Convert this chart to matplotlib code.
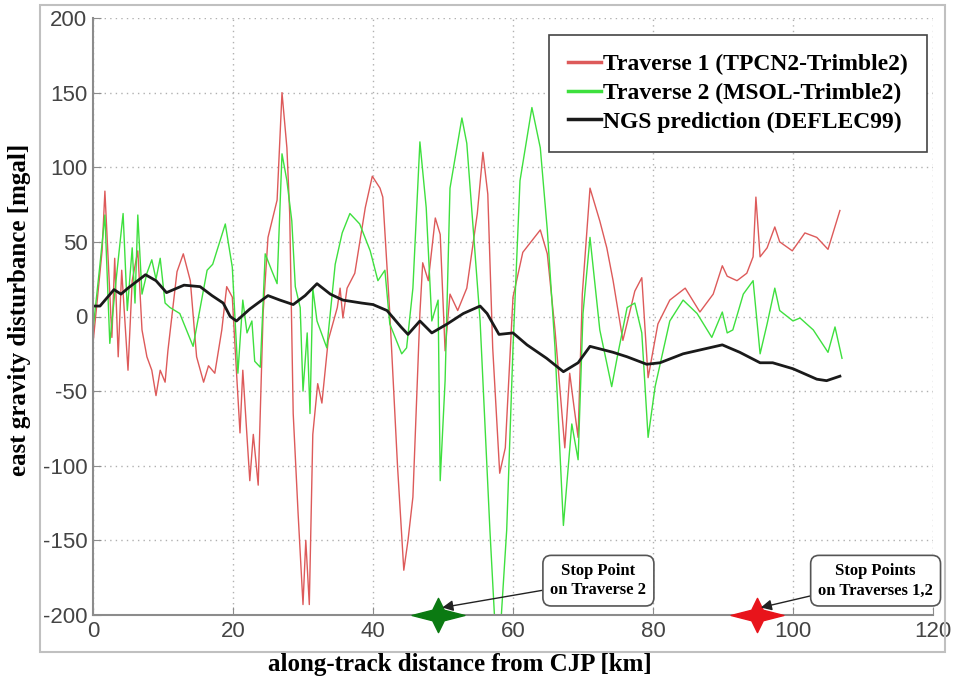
import numpy as np
import matplotlib.pyplot as plt
from matplotlib.path import Path
from matplotlib.patches import Rectangle

plt.rcParams["axes.unicode_minus"] = False

# ---------------- data ----------------
# Traverse 1 (TPCN2-Trimble2), km / mgal
t1_x = [0, 1.3, 1.7, 2.7, 3.1, 3.6, 4.1, 5.0, 5.6, 6.4, 7.0, 7.7, 8.4, 9.0, 9.6,
        10.3, 10.7, 12.0, 12.9, 13.9, 14.8, 15.8, 16.5, 17.4, 18.4, 19.1, 19.9,
        20.3, 21.0, 21.4, 22.4, 22.9, 23.6, 24.3, 25.0, 26.3, 27.0, 27.7, 28.1,
        28.6, 29.3, 30.0, 30.4, 30.9, 31.4, 32.1, 32.7, 33.6, 34.9, 35.3, 35.7,
        36.3, 37.4, 38.9, 39.9, 41.0, 41.4, 42.4, 43.5, 44.4, 45.0, 45.7, 46.7,
        47.1, 47.9, 48.9, 49.6, 50.3, 51.0, 52.1, 53.4, 54.9, 55.7, 56.4, 57.1,
        58.1, 58.9, 60.0, 61.4, 63.9, 64.9, 66.0, 67.4, 68.1, 68.7, 69.3, 69.9,
        71.0, 72.4, 73.4, 74.3, 75.7, 77.4, 78.4, 79.3, 80.7, 82.4, 84.6, 86.7,
        88.6, 89.9, 90.6, 92.0, 93.4, 94.3, 94.7, 95.3, 96.3, 97.4, 98.1, 99.9,
        101.7, 103.4, 105.0, 106.7]
t1_y = [-18, 44, 84, -14, 39, -27, 31, -36, 24, 44, -9, -27, -36, -53, -36,
        -44, -23, 30, 42, 24, -27, -44, -33, -38, -9, 20, 13,
        -21, -78, -36, -110, -79, -113, 2, 53, 78, 150, 113, 69,
        -65, -132, -193, -150, -193, -79, -45, -58, -16, 6, 19, -1,
        19, 29, 73, 94, 86, 80, 2, -100, -170, -150, -121, 2,
        36, 24, 66, 55, -23, 15, 4, 19, 69, 110, 82, -21,
        -105, -88, 13, 43, 58, 42, -9, -88, -38, -60, -81, 15,
        86, 64, 46, 24, -16, 17, 26, -41, -5, 11, 19, 3,
        15, 34, 27, 24, 29, 40, 80, 40, 46, 60, 50, 44,
        56, 53, 45, 71]

# Traverse 2 (MSOL-Trimble2)
t2_x = [0, 1.0, 1.7, 2.4, 3.2, 4.3, 4.9, 5.6, 6.0, 6.4, 7.0, 7.7, 8.4, 9.0, 9.6,
        10.3, 11.0, 12.4, 14.3, 16.3, 17.1, 18.9, 19.9, 20.7, 21.4, 22.0, 22.7,
        23.1, 23.9, 24.6, 25.6, 26.3, 27.0, 27.7, 28.4, 28.9, 29.6, 30.0, 30.6,
        31.0, 31.4, 32.0, 33.4, 34.6, 35.6, 36.7, 38.1, 39.6, 40.7, 41.7, 42.4,
        44.1, 44.8, 45.7, 46.7, 47.6, 48.4, 49.3, 49.6, 50.3, 51.0, 52.7, 53.4,
        55.3, 56.7, 57.8, 59.1, 60.0, 61.0, 62.7, 63.9, 64.9, 66.0, 67.2, 68.4,
        69.3, 70.0, 71.0, 72.4, 74.1, 74.9, 76.3, 77.4, 78.4, 79.3, 80.3, 82.4,
        84.3, 86.3, 88.4, 89.9, 90.6, 91.4, 92.9, 94.3, 95.3, 96.3, 97.4, 98.1,
        100.0, 101.0, 102.9, 105.0, 106.0, 107.0]
t2_y = [-9, 35, 68, -18, 20, 69, 4, 46, 9, 68, 15, 29, 38, 25, 39,
        9, 6, 2, -20, 31, 35, 62, 33, -38, 11, -11, -3,
        -30, -34, 42, 30, 22, 109, 91, 64, 20, 6, -50, -11,
        -65, 19, -3, -21, 35, 56, 69, 62, 44, 24, 31, -5,
        -25, -21, 19, 117, 73, -3, 11, -110, -43, 86, 133, 116,
        -3, -143, -240, -143, -21, 91, 140, 113, 58, -21, -140, -72,
        -96, 2, 53, -9, -47, -27, 6, 9, -11, -81, -47, -3,
        11, 2, -14, 3, -11, -9, 15, 24, -25, -5, 19, 4,
        -3, -1, -9, -24, -7, -28]

# NGS prediction (DEFLEC99)
ngs_x = [0, 1.0, 3.0, 4.0, 5.0, 7.5, 9.0, 10.5, 13.0, 15.3, 17.0, 18.6, 19.6,
         20.5, 22.4, 25.0, 26.7, 28.6, 30.3, 32.0, 33.9, 35.7, 38.4, 40.0, 42.0,
         44.0, 45.0, 46.7, 48.4, 50.6, 52.9, 55.3, 56.3, 58.0, 60.0, 62.0, 64.8,
         67.2, 69.3, 71.0, 74.3, 76.3, 79.1, 81.0, 84.3, 89.9, 92.4, 95.3, 97.1,
         100.0, 103.4, 104.8, 106.7]
ngs_y = [7, 7, 18, 15, 19, 28, 24, 16, 21, 20, 14, 9, 0,
         -3, 5, 14, 11, 8, 14, 22, 15, 11, 9, 8, 4,
         -7, -12, -3, -11, -5, 2, 7, 2, -12, -11, -19, -28,
         -37, -31, -20, -24, -27, -32, -31, -25, -19, -24, -31, -31,
         -35, -42, -43, -40]

stop_t2 = (49.3, -200)
stop_t12 = (94.9, -200)

labels = ["Traverse 1 (TPCN2-Trimble2)", "Traverse 2 (MSOL-Trimble2)",
          "NGS prediction (DEFLEC99)"]

# ---------------- plotting ----------------
SERIF = ["Liberation Serif", "DejaVu Serif"]
GREY = "#8c8c8c"

fig = plt.figure(figsize=(9.59, 6.86), dpi=100)
ax = fig.add_axes([93 / 959, 1 - 615 / 686, 840 / 959, 597 / 686])

ax.plot(t1_x, t1_y, color="#dd5a5a", lw=1.0, label=labels[0])
ax.plot(t2_x, t2_y, color="#3ee03e", lw=1.0, label=labels[1])
ax.plot(ngs_x, ngs_y, color="#1a1a1a", lw=2.0, label=labels[2])

ax.set_xlim(0, 120)
ax.set_ylim(-200, 200)
ax.set_xticks(np.arange(0, 121, 20))
ax.set_yticks(np.arange(-200, 201, 50))
ax.grid(True, linestyle=(0, (1, 3)), color="#b0b0b0", lw=1.0)
ax.tick_params(direction="in", length=6, color=GREY, labelcolor="#444444",
               labelsize=16, pad=4)
for lab in ax.get_xticklabels() + ax.get_yticklabels():
    lab.set_family("Liberation Sans")
for side in ["top", "right"]:
    ax.spines[side].set_visible(False)
for side in ["left", "bottom"]:
    ax.spines[side].set_color(GREY)
    ax.spines[side].set_linewidth(1.5)

leg = ax.legend(loc="upper right", bbox_to_anchor=(0.993, 0.9715),
                borderaxespad=0,
                prop={"family": SERIF, "weight": "bold", "size": 17},
                handlelength=1.4, handletextpad=0.1, labelspacing=0.3,
                borderpad=0.8, fancybox=False, framealpha=1)
leg.get_frame().set_edgecolor("#444444")
leg.get_frame().set_linewidth(1.2)
for h in leg.get_lines():
    h.set_linewidth(2.5)

# four-pointed stop markers
star = Path([(-1.0, 0), (-0.22, 0.2), (0, 0.65), (0.22, 0.2), (1.0, 0),
             (0.22, -0.2), (0, -0.65), (-0.22, -0.2), (-1.0, 0)],
            [Path.MOVETO] + [Path.LINETO] * 7 + [Path.CLOSEPOLY])
ax.plot(*stop_t2, marker=star, ms=38, color="#0b7a12", clip_on=False, zorder=5)
ax.plot(*stop_t12, marker=star, ms=38, color="#e8141b", clip_on=False, zorder=5)

box = dict(boxstyle="round,pad=0.45,rounding_size=0.5", fc="white",
           ec="#555555", lw=1.2)
arrow = dict(arrowstyle="-|>", color="#222222", lw=1.0, mutation_scale=16,
             shrinkA=0, shrinkB=0)
ax.annotate("Stop Point\non Traverse 2", xy=(stop_t2[0] + 0.6, -195),
            xytext=(72.2, -177), ha="center", va="center",
            fontsize=12, fontweight="bold", family=SERIF, linespacing=1.3,
            bbox=box, arrowprops=arrow, zorder=6)
ax.annotate("Stop Points\non Traverses 1,2", xy=(stop_t12[0] + 0.5, -195),
            xytext=(111.8, -177), ha="center", va="center",
            fontsize=12, fontweight="bold", family=SERIF, linespacing=1.3,
            bbox=box, arrowprops=arrow, annotation_clip=False, zorder=6)

# light frame around the plotting area
fig.add_artist(Rectangle((40 / 959, 1 - 652 / 686), 905 / 959, 647 / 686,
                         transform=fig.transFigure, fill=False,
                         ec="#c0c0c0", lw=1.5))

fig.text(460 / 959, 1 - 664 / 686, "along-track distance from CJP [km]",
         ha="center", va="center", fontsize=18, fontweight="bold",
         family=SERIF)
fig.text(20 / 959, 1 - 310 / 686, "east gravity disturbance [mgal]",
         ha="center", va="center", rotation=90, fontsize=18,
         fontweight="bold", family=SERIF)

plt.savefig("out.png", dpi=100)
